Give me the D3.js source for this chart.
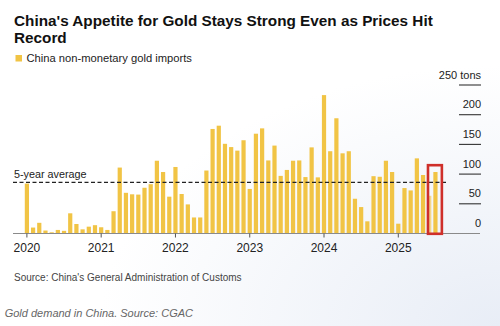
<!DOCTYPE html>
<html>
<head>
<meta charset="utf-8">
<script src="https://cdn.jsdelivr.net/npm/d3@7"></script>
<style>
  html, body { margin: 0; padding: 0; background: #ffffff; }
  svg { display: block; }
</style>
</head>
<body>
<svg id="chart" width="500" height="326"></svg>
<script>
// ---- data ----
const years = ["2020", "2021", "2022", "2023", "2024", "2025"];
const months = ["Jan","Feb","Mar","Apr","May","Jun","Jul","Aug","Sep","Oct","Nov","Dec"];
const imports2020 = [84, 10, 18, 5, 2, 6, 4.5, 34, 16, 7, 11.5, 14];
const imports2021 = [10.5, 6, 37.5, 111, 68.5, 66, 65.5, 77, 83, 122.5, 103.5, 62];
const imports2022 = [112, 66.5, 49, 27, 27, 106, 176, 181.5, 151, 145.5, 139.5, 157];
const imports2023 = [75, 168, 177, 123, 148, 97, 107, 122.5, 123, 95, 145, 94.5];
const imports2024 = [233, 138.5, 194, 135, 138.5, 58.5, 44.5, 20.5, 96.5, 95.5, 122.5, 103.5];
const imports2025 = [16.5, 76.5, 72.5, 126.5, 98.5, 63.5, 103.5];
const fiveYearAverage = 86;
const yTicks = [0, 50, 100, 150, 200, 250];
const highlightMonths = ["Jun 2025", "Jul 2025"];
const fadedMonths = ["Jun 2025"];

const seriesByYear = [imports2020, imports2021, imports2022, imports2023, imports2024, imports2025];
const data = [];
seriesByYear.forEach((arr, yi) => arr.forEach((v, mi) => data.push({ label: months[mi] + " " + years[yi], year: years[yi], month: mi, value: v })));

// ---- layout ----
const svg = d3.select("#chart");
const W = 500, H = 326;

const defs = svg.append("defs");
const grad = defs.append("radialGradient").attr("id", "bg").attr("cx", "100%").attr("cy", "100%").attr("r", "80%");
grad.append("stop").attr("offset", "0%").attr("stop-color", "#e8edf6");
grad.append("stop").attr("offset", "100%").attr("stop-color", "#ffffff");
svg.append("rect").attr("width", W).attr("height", H).attr("fill", "url(#bg)");

const x = d3.scaleBand()
  .domain(data.map(d => d.label))
  .range([23.8, 23.8 + 6.19 * data.length])
  .paddingInner(0.32)
  .paddingOuter(0.16);

const y = d3.scaleLinear().domain([0, 250]).range([233.5, 85]);

const gold = "#f1c445";
const goldFaded = "#f4d68a";

// title
const title = svg.append("text")
  .attr("font-family", "Liberation Sans, Arial, sans-serif")
  .attr("font-weight", "bold")
  .attr("font-size", 15.3)
  .attr("fill", "#111");
title.append("tspan").attr("x", 14).attr("y", 26.3).text("China's Appetite for Gold Stays Strong Even as Prices Hit");
title.append("tspan").attr("x", 14).attr("y", 43.3).text("Record");

// legend
svg.append("rect").attr("x", 15.5).attr("y", 55).attr("width", 6.5).attr("height", 6.5).attr("fill", gold);
svg.append("text").attr("x", 26.5).attr("y", 61.5)
  .attr("font-family", "Liberation Sans, Arial, sans-serif").attr("font-size", 11.2).attr("fill", "#222")
  .text("China non-monetary gold imports");

// bars
svg.append("g").selectAll("rect").data(data).join("rect")
  .attr("x", d => x(d.label))
  .attr("width", x.bandwidth())
  .attr("y", d => y(d.value))
  .attr("height", d => y(0) - y(d.value))
  .attr("fill", d => fadedMonths.includes(d.label) ? goldFaded : gold);

// baseline axis
svg.append("line").attr("x1", 13).attr("x2", 480).attr("y1", y(0)).attr("y2", y(0))
  .attr("stroke", "#8a8a8a").attr("stroke-width", 1);

// year ticks and labels
const yearStarts = data.filter(d => d.month === 0);
const xg = svg.append("g");
xg.selectAll("line").data(yearStarts).join("line")
  .attr("x1", d => x(d.label) + x.bandwidth() / 2)
  .attr("x2", d => x(d.label) + x.bandwidth() / 2)
  .attr("y1", y(0)).attr("y2", y(0) + 4)
  .attr("stroke", "#555").attr("stroke-width", 1);
xg.selectAll("text").data(yearStarts).join("text")
  .attr("x", d => x(d.label) + x.bandwidth() / 2)
  .attr("y", 252)
  .attr("text-anchor", "middle")
  .attr("font-family", "Liberation Sans, Arial, sans-serif").attr("font-size", 12).attr("fill", "#222")
  .text(d => d.year);

// y ticks on right
const yg = svg.append("g");
yg.selectAll("line").data(yTicks.filter(t => t > 0)).join("line")
  .attr("x1", 459).attr("x2", 481)
  .attr("y1", d => y(d)).attr("y2", d => y(d))
  .attr("stroke", "#333").attr("stroke-width", 1.1);
yg.selectAll("text").data(yTicks).join("text")
  .attr("x", 481)
  .attr("y", d => y(d) - 6.5)
  .attr("text-anchor", "end")
  .attr("font-family", "Liberation Sans, Arial, sans-serif").attr("font-size", 11).attr("fill", "#222")
  .text(d => d === 250 ? d + " tons" : d);

// 5-year average line
svg.append("line").attr("x1", 13).attr("x2", 448)
  .attr("y1", y(fiveYearAverage)).attr("y2", y(fiveYearAverage))
  .attr("stroke", "#222").attr("stroke-width", 1.2).attr("stroke-dasharray", "4,2.5");
svg.append("text").attr("x", 14).attr("y", y(fiveYearAverage) - 4.3)
  .attr("font-family", "Liberation Sans, Arial, sans-serif").attr("font-size", 10.8).attr("fill", "#222")
  .text("5-year average");

// highlight box
const xl = x(highlightMonths[0]) + x.bandwidth() * 0.2;
const xr = x(highlightMonths[1]) + x.bandwidth() + x.step() * 0.7;
svg.append("rect")
  .attr("x", xl).attr("y", y(115))
  .attr("width", xr - xl).attr("height", y(0) + 0.3 - y(115))
  .attr("fill", "none").attr("stroke", "#cf2f2a").attr("stroke-width", 2.6);

// source
svg.append("text").attr("x", 14).attr("y", 281)
  .attr("font-family", "Liberation Sans, Arial, sans-serif").attr("font-size", 10).attr("fill", "#444")
  .text("Source: China's General Administration of Customs");

// caption
svg.append("text").attr("x", 4.7).attr("y", 317)
  .attr("font-family", "Liberation Sans, Arial, sans-serif").attr("font-size", 11).attr("font-style", "italic").attr("fill", "#666")
  .text("Gold demand in China. Source: CGAC");
</script>
</body>
</html>
